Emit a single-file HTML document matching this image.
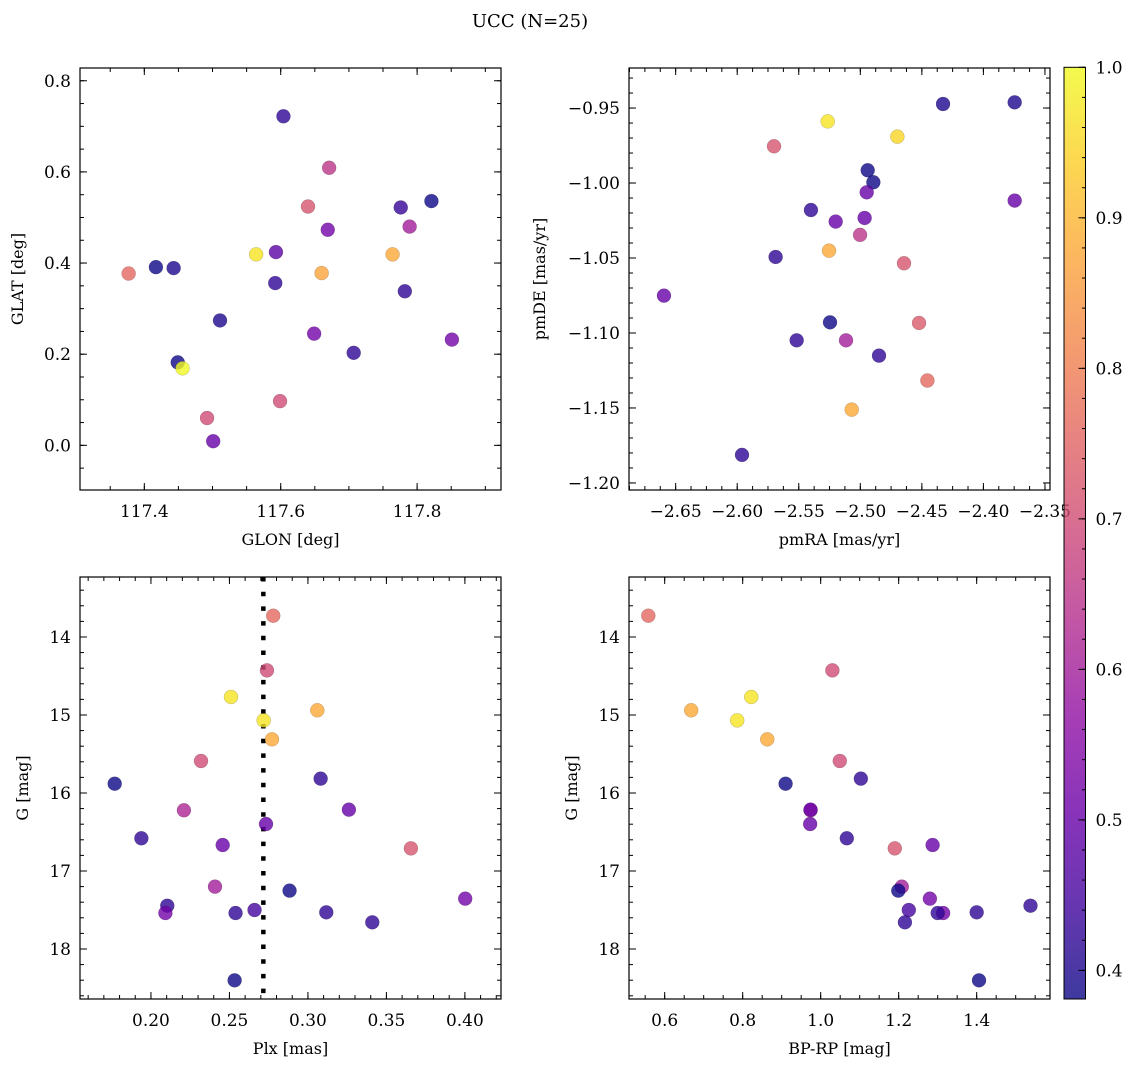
<!DOCTYPE html>
<html><head><meta charset="utf-8"><style>
html,body{margin:0;padding:0;background:#fff;}
svg{display:block;font-family:"DejaVu Serif","Liberation Serif",serif;}
</style></head><body>
<svg id="fig" width="1136" height="1067" viewBox="0 0 1136 1067" xmlns="http://www.w3.org/2000/svg">
<text x="530" y="27" text-anchor="middle" font-size="18">UCC (N=25)</text>
</svg>
<script>
// Panel A: GLON vs GLAT
const glon = [117.604,117.671,117.640,117.821,117.776,117.789,117.669,117.564,117.593,117.764,117.377,117.417,117.443,117.660,117.592,117.782,117.511,117.649,117.851,117.707,117.449,117.456,117.599,117.492,117.501];
const glat = [0.722,0.609,0.524,0.536,0.522,0.480,0.473,0.419,0.424,0.419,0.377,0.391,0.389,0.378,0.356,0.338,0.274,0.245,0.232,0.203,0.182,0.169,0.097,0.060,0.009];
const probA = [0.42,0.65,0.72,0.38,0.43,0.60,0.52,0.97,0.48,0.88,0.76,0.38,0.40,0.87,0.42,0.42,0.40,0.52,0.52,0.42,0.38,1.00,0.70,0.70,0.50];
// Panel B: pmRA vs pmDE
const pmra = [-2.4328,-2.3746,-2.5265,-2.4699,-2.5701,-2.4940,-2.4894,-2.4948,-2.3746,-2.5401,-2.5200,-2.4965,-2.5002,-2.5254,-2.5688,-2.4645,-2.6595,-2.5246,-2.4523,-2.5517,-2.5116,-2.4848,-2.4455,-2.5070,-2.5961];
const pmde = [-0.9473,-0.9462,-0.9589,-0.9691,-0.9755,-0.9915,-0.9995,-1.0062,-1.0117,-1.0180,-1.0257,-1.0233,-1.0346,-1.0451,-1.0493,-1.0535,-1.0751,-1.0929,-1.0933,-1.1049,-1.1049,-1.1151,-1.1317,-1.1511,-1.1813];
const probB = [0.40,0.40,0.97,0.95,0.72,0.38,0.38,0.50,0.50,0.42,0.50,0.50,0.65,0.88,0.42,0.72,0.50,0.38,0.73,0.42,0.60,0.42,0.76,0.88,0.42];
// Panels C/D: Plx, G, BP-RP
const plx = [0.2779,0.2739,0.2510,0.3060,0.2718,0.2771,0.2319,0.1769,0.3081,0.2210,0.3261,0.2733,0.1939,0.2457,0.3656,0.2408,0.2883,0.4002,0.2104,0.2092,0.2539,0.2660,0.3117,0.3410,0.2533];
const gmag = [13.727,14.428,14.769,14.940,15.069,15.312,15.590,15.881,15.816,16.222,16.214,16.398,16.581,16.667,16.710,17.201,17.252,17.355,17.445,17.539,17.539,17.500,17.530,17.658,18.402];
const bprp = [0.558,1.030,0.822,0.668,0.786,0.863,1.049,0.910,1.103,0.974,0.974,0.973,1.067,1.287,1.190,1.208,1.199,1.280,1.538,1.314,1.300,1.226,1.400,1.216,1.406];
const probC = [0.76,0.70,0.97,0.88,0.97,0.88,0.70,0.38,0.42,0.62,0.50,0.50,0.42,0.50,0.72,0.60,0.38,0.52,0.42,0.52,0.42,0.45,0.42,0.42,0.38];
const plxMedian = [0.2716];
const cbTicks = [0.4,0.5,0.6,0.7,0.8,0.9,1.0];

const NS = "http://www.w3.org/2000/svg";
const svg = document.getElementById("fig");
const VMIN = 0.381, VMAX = 1.0;
const FS = 17;
const stops = ["#0d0887","#41049d","#6a00a8","#8f0da4","#b12a90","#cc4778","#e16462","#f2844b","#fca636","#fcce25","#f0f921"];
function hex(h){return [parseInt(h.slice(1,3),16),parseInt(h.slice(3,5),16),parseInt(h.slice(5,7),16)];}
function plasma(t){t=Math.max(0,Math.min(1,t));const p=t*10;const i=Math.min(9,Math.floor(p));const f=p-i;const a=hex(stops[i]),b=hex(stops[i+1]);return "rgb("+a.map((v,k)=>Math.round(v+(b[k]-v)*f)).join(",")+")";}
function cmap(v){return plasma((v-VMIN)/(VMAX-VMIN));}
function el(tag,attrs,parent){const e=document.createElementNS(NS,tag);for(const k in attrs)e.setAttribute(k,attrs[k]);(parent||svg).appendChild(e);return e;}
function fmt(v,d){let s=v.toFixed(d);if(v<0)s="\u2212"+s.slice(1);return s;}

function panel(o){
  const g=el("g",{});
  
  
  const L=o.x0,T=o.y0,W=o.w,H=o.h;
  const sx=v=>L+(v-o.xr[0])/(o.xr[1]-o.xr[0])*W;
  const sy=v=>o.yinv? T+(v-o.yr[0])/(o.yr[1]-o.yr[0])*H : T+H-(v-o.yr[0])/(o.yr[1]-o.yr[0])*H;
  const cid="clip-"+o.name;
  const cp=el("clipPath",{id:cid},g);el("rect",{x:L,y:T,width:W,height:H},cp);
  const marks=el("g",{"clip-path":"url(#"+cid+")"},g);
  
  
  if(o.vline){o.vline.forEach(v=>{const ln=el("line",{x1:sx(v),x2:sx(v),y1:T,y2:T+H,stroke:"#000","stroke-width":4.5,"stroke-dasharray":"4.5 10.2"},marks);
    
    });}
  o.xs.forEach((_,i)=>{
    const c=el("circle",{cx:sx(o.xs[i]),cy:sy(o.ys[i]),r:7,fill:cmap(o.cs[i]),"fill-opacity":0.8,stroke:"rgba(0,0,0,0.25)","stroke-width":0.5},marks);
    
    
  });
  const tk=el("g",{stroke:"#000","stroke-width":1},g);
  function range(a,b,s){const r=[];const n0=Math.ceil(Math.min(a,b)/s-1e-6),n1=Math.floor(Math.max(a,b)/s+1e-6);for(let n=n0;n<=n1;n++)r.push(n*s);return r;}
  range(o.xr[0],o.xr[1],o.xminor).forEach(v=>{const x=sx(v);el("line",{x1:x,x2:x,y1:T+H,y2:T+H-4},tk);el("line",{x1:x,x2:x,y1:T,y2:T+4},tk);});
  range(o.yr[0],o.yr[1],o.yminor).forEach(v=>{const y=sy(v);el("line",{x1:L,x2:L+4,y1:y,y2:y},tk);el("line",{x1:L+W,x2:L+W-4,y1:y,y2:y},tk);});
  range(o.xr[0],o.xr[1],o.xmajor).forEach(v=>{const x=sx(v);el("line",{x1:x,x2:x,y1:T+H,y2:T+H-7},tk);el("line",{x1:x,x2:x,y1:T,y2:T+7},tk);
    const t=el("text",{x:x,y:T+H+27,"text-anchor":"middle","font-size":FS},g);t.textContent=fmt(v,o.xd);
    
    });
  range(o.yr[0],o.yr[1],o.ymajor).forEach(v=>{const y=sy(v);el("line",{x1:L,x2:L+7,y1:y,y2:y},tk);el("line",{x1:L+W,x2:L+W-7,y1:y,y2:y},tk);
    const t=el("text",{x:L-9,y:y+6,"text-anchor":"end","font-size":FS},g);t.textContent=fmt(v,o.yd);
    
    });
  const fr=el("rect",{x:L,y:T,width:W,height:H,fill:"none",stroke:"#000","stroke-width":1.2},g);
  
  
  const xl=el("text",{x:L+W/2,y:T+H+55,"text-anchor":"middle","font-size":16},g);xl.textContent=o.xlabel;
  
  
  const yl=el("text",{x:0,y:0,"text-anchor":"middle","font-size":16,transform:"translate("+o.ylx+","+(T+H/2)+") rotate(-90)"},g);yl.textContent=o.ylabel;
  
  
}

panel({name:"glon-glat-panel",x0:80,y0:68,w:421,h:422,xr:[117.3057,117.9230],yr:[-0.098,0.828],xs:glon,ys:glat,cs:probA,xmajor:0.2,xminor:0.05,ymajor:0.2,yminor:0.05,xd:1,yd:1,xlabel:"GLON [deg]",ylabel:"GLAT [deg]",ylx:23});
panel({name:"pm-panel",x0:629,y0:68,w:421,h:422,xr:[-2.6879,-2.3459],yr:[-1.2047,-0.9233],xs:pmra,ys:pmde,cs:probB,xmajor:0.05,xminor:0.0125,ymajor:0.05,yminor:0.01,xd:2,yd:2,xlabel:"pmRA [mas/yr]",ylabel:"pmDE [mas/yr]",ylx:545});
panel({name:"plx-g-panel",x0:80,y0:577,w:421,h:422,xr:[0.1548,0.4230],yr:[13.231,18.641],yinv:true,xs:plx,ys:gmag,cs:probC,xmajor:0.05,xminor:0.01,ymajor:1,yminor:0.2,xd:2,yd:0,xlabel:"Plx [mas]",ylabel:"G [mag]",ylx:28,vline:plxMedian});
panel({name:"cmd-panel",x0:629,y0:577,w:421,h:422,xr:[0.5085,1.5880],yr:[13.231,18.641],yinv:true,xs:bprp,ys:gmag,cs:probC,xmajor:0.2,xminor:0.05,ymajor:1,yminor:0.2,xd:1,yd:0,xlabel:"BP-RP [mag]",ylabel:"G [mag]",ylx:577});

const cb=el("g",{});


const CX=1064,CT=67.3,CW=21.5,CB=999;
const defs=el("defs",{},cb);
const lg=el("linearGradient",{id:"cbgrad",x1:0,y1:1,x2:0,y2:0},defs);
for(let k=0;k<=20;k++){el("stop",{offset:k/20,"stop-color":plasma(k/20),"stop-opacity":0.8},lg);}
el("rect",{x:CX,y:CT,width:CW,height:CB-CT,fill:"url(#cbgrad)",stroke:"#000","stroke-width":1},cb);
const cy=v=>CB-(v-VMIN)/(VMAX-VMIN)*(CB-CT);
for(let v=0.40;v<=1.0001;v+=0.02){el("line",{x1:CX+CW,x2:CX+CW-3.5,y1:cy(v),y2:cy(v),stroke:"#000","stroke-width":1},cb);}
cbTicks.forEach(v=>{el("line",{x1:CX+CW,x2:CX+CW-7,y1:cy(v),y2:cy(v),stroke:"#000","stroke-width":1},cb);
  const t=el("text",{x:CX+CW+10,y:cy(v)+6,"font-size":FS},cb);t.textContent=v.toFixed(1);
  
  });
</script>
</body></html>
